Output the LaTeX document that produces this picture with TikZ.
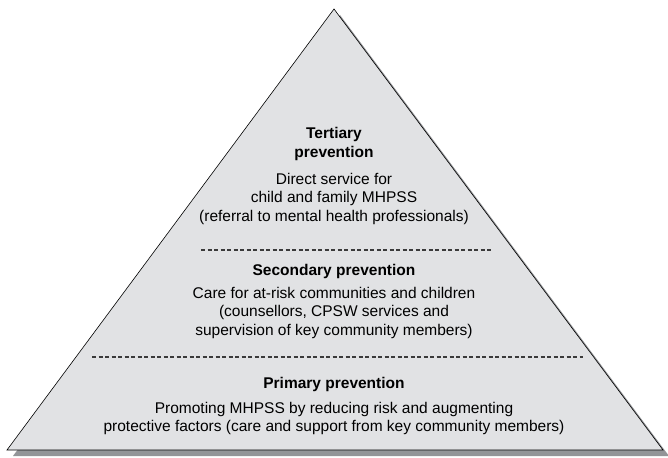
\documentclass[tikz,border=0pt]{standalone}
\usepackage{fontspec}
\setmainfont{Liberation Sans}
\usepackage{xcolor}
\definecolor{pyrfill}{HTML}{E1E2E4}
\definecolor{pyrshadow}{HTML}{939598}
\definecolor{dashgray}{HTML}{3A3A3A}
\begin{document}
\begin{tikzpicture}[x=1pt, y=1pt,
  level/.style={draw=none, align=center, anchor=north, inner sep=0pt,
    font=\fontsize{15.5}{18.5}\selectfont},
  heading/.style={level, font=\fontsize{15.5}{19}\selectfont\bfseries},
  divider/.style={draw=dashgray, line width=1.3pt, dash pattern=on 4pt off 2.5pt}
]
\useasboundingbox (0,0) rectangle (668,457);
\coordinate (apex) at (334,448);
\coordinate (left) at (7,7);
\coordinate (right) at (663,7);
% shadow, then the pyramid itself
\fill[pyrshadow] ([shift={(6,-6)}]apex) -- ([shift={(6,-6)}]left) -- ([shift={(6,-6)}]right) -- cycle;
\filldraw[fill=pyrfill, draw=black, line width=0.6pt] (apex) -- (left) -- (right) -- cycle;
\coordinate (d1a) at (201,207);
\coordinate (d1b) at (492,207);
\coordinate (d2a) at (92,100);
\coordinate (d2b) at (583,100);
\draw[divider] (d1a) -- (d1b);
\draw[divider] (d2a) -- (d2b);
% text blocks, placed by the top of their first line
\node[heading] (tert) at (334,330) {Tertiary\\prevention};
\node[level] (terttext) at (334,284) {Direct service for\\child and family MHPSS\\(referral to mental health professionals)};
\node[heading] (sec) at (334,193) {Secondary prevention};
\node[level] (sectext) at (334,170) {Care for at-risk communities and children\\(counsellors, CPSW services and\\supervision of key community members)};
\node[heading] (prim) at (334,80) {Primary prevention};
\node[level] (primtext) at (334,55) {Promoting MHPSS by reducing risk and augmenting\\protective factors (care and support from key community members)};
\end{tikzpicture}
\end{document}
